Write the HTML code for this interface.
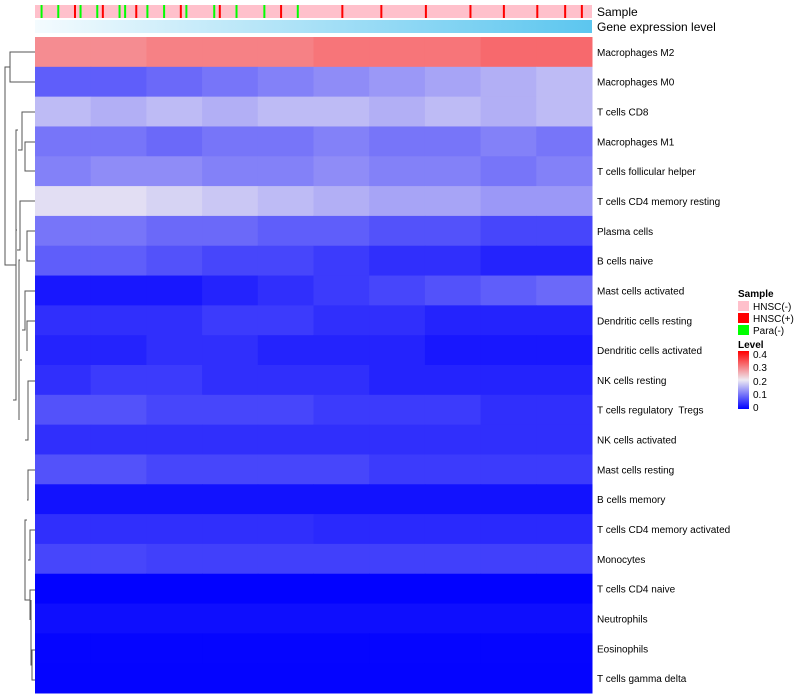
<!DOCTYPE html>
<html><head><meta charset="utf-8"><style>
body{margin:0;background:#fff;font-family:"Liberation Sans",sans-serif;}
#wrap{position:relative;width:800px;height:700px;overflow:hidden}
text{white-space:pre}
</style></head><body>
<div id="wrap">
<svg id="svg" width="800" height="700" xmlns="http://www.w3.org/2000/svg">
<defs>
<linearGradient id="gexp" x1="0" x2="1"><stop offset="0" stop-color="#f4fbfe"/><stop offset="1" stop-color="#5cc6ef"/></linearGradient>
<linearGradient id="lev" x1="0" y1="1" x2="0" y2="0"><stop offset="0" stop-color="#0000ff"/><stop offset="0.5" stop-color="#eeeaf2"/><stop offset="1" stop-color="#ff0000"/></linearGradient>
</defs>
<g id="dendro" stroke="#555" fill="none" stroke-width="1">
<path d="M35 52 H10 V82 H35 M10 67 H5 V265 H16 M35 112 H22 V150 H18 M35 142 H25 V171 H35 M18 130 H16 V400 H13 M35 201 H20 V250 H17 M35 231 H27 V261 H35 M17 230 H16 M20 260 H19 V420 M35 291 H25 V330 H22 M35 321 H27 V351 M22 360 H20 M35 381 H28 V440 H25 M35 470 H28 V500 H27 M35 530 H30 V560 H28 M27 520 H25 V600 H30 M35 590 H30 V620 M35 650 H32 V680 H35 M32 665 H31 V600"/>
</g>
<rect x="35" y="5" width="557" height="13" fill="#ffc0cb"/>
<g id="sampleMarks"></g>
<rect x="35" y="20" width="557" height="13" fill="url(#gexp)"/>
<text x="597" y="16" font-size="12">Sample</text>
<text x="597" y="31" font-size="12">Gene expression level</text>
<g id="cells"></g>
<g id="labels" font-size="10"></g>
<g font-size="10">
<text x="738" y="297" font-weight="bold">Sample</text>
<rect x="738" y="301" width="11" height="10" fill="#ffc0cb"/><text x="753" y="310">HNSC(-)</text>
<rect x="738" y="313" width="11" height="10" fill="#ff0000"/><text x="753" y="322">HNSC(+)</text>
<rect x="738" y="325" width="11" height="10" fill="#00ff00"/><text x="753" y="334">Para(-)</text>
<text x="738" y="348" font-weight="bold">Level</text>
<rect x="738" y="351" width="11" height="58" fill="url(#lev)"/>
<text x="753" y="358">0.4</text><text x="753" y="371">0.3</text><text x="753" y="385">0.2</text><text x="753" y="398">0.1</text><text x="753" y="411">0</text>
</g>
</svg>
</div>
<script>
const rowNames=["Macrophages M2","Macrophages M0","T cells CD8","Macrophages M1","T cells follicular helper","T cells CD4 memory resting","Plasma cells","B cells naive","Mast cells activated","Dendritic cells resting","Dendritic cells activated","NK cells resting","T cells regulatory  Tregs","NK cells activated","Mast cells resting","B cells memory","T cells CD4 memory activated","Monocytes","T cells CD4 naive","Neutrophils","Eosinophils","T cells gamma delta"];
const rowLevels=[
[0.28,0.28,0.29,0.29,0.29,0.30,0.30,0.30,0.31,0.31],
[0.08,0.08,0.09,0.10,0.11,0.12,0.13,0.14,0.15,0.16],
[0.16,0.15,0.16,0.15,0.16,0.16,0.15,0.16,0.15,0.16],
[0.10,0.10,0.09,0.10,0.10,0.11,0.10,0.10,0.11,0.10],
[0.11,0.12,0.12,0.11,0.11,0.12,0.11,0.11,0.10,0.11],
[0.19,0.19,0.18,0.17,0.16,0.15,0.14,0.14,0.13,0.13],
[0.10,0.10,0.09,0.09,0.08,0.08,0.07,0.07,0.06,0.06],
[0.08,0.08,0.07,0.06,0.06,0.05,0.04,0.04,0.03,0.03],
[0.02,0.02,0.02,0.03,0.04,0.05,0.06,0.07,0.08,0.09],
[0.04,0.04,0.04,0.05,0.05,0.04,0.04,0.03,0.03,0.03],
[0.03,0.03,0.04,0.04,0.03,0.03,0.03,0.02,0.02,0.02],
[0.04,0.05,0.05,0.04,0.04,0.04,0.03,0.03,0.03,0.03],
[0.07,0.07,0.06,0.06,0.06,0.05,0.05,0.05,0.04,0.04],
[0.04,0.04,0.04,0.04,0.04,0.04,0.04,0.04,0.04,0.04],
[0.07,0.07,0.06,0.06,0.06,0.06,0.05,0.05,0.05,0.05],
[0.015,0.015,0.015,0.015,0.015,0.015,0.015,0.015,0.015,0.015],
[0.04,0.04,0.04,0.04,0.04,0.035,0.035,0.035,0.035,0.035],
[0.06,0.06,0.055,0.055,0.055,0.055,0.055,0.055,0.055,0.055],
[0.002,0.002,0.002,0.002,0.002,0.002,0.002,0.002,0.002,0.002],
[0.012,0.012,0.012,0.012,0.012,0.012,0.012,0.012,0.012,0.012],
[0.004,0.004,0.004,0.004,0.004,0.004,0.004,0.004,0.004,0.004],
[0.003,0.003,0.003,0.003,0.003,0.003,0.003,0.003,0.003,0.003]];
const greenSamples=[0.01,0.04,0.08,0.11,0.15,0.16,0.2,0.23,0.27,0.32,0.36,0.41,0.47];
const redSamples=[0.07,0.12,0.18,0.26,0.33,0.44,0.55,0.62,0.7,0.78,0.84,0.9,0.95,0.98];
const X0=35,X1=592,Y0=37,Y1=693;
const ns="http://www.w3.org/2000/svg";
function col(v){let t=Math.max(0,Math.min(0.4,v))/0.4;let r,g,b;
 if(t<0.5){let u=t/0.5;r=Math.round(238*u);g=Math.round(234*u);b=Math.round(255-13*u);}
 else{let u=(t-0.5)/0.5;r=Math.round(238+17*u);g=Math.round(234*(1-u));b=Math.round(242*(1-u));}
 return `rgb(${r},${g},${b})`;}
const rh=(Y1-Y0)/rowNames.length;
const cells=document.getElementById('cells'),labels=document.getElementById('labels');
rowNames.forEach((n,i)=>{const segs=rowLevels[i],sw=(X1-X0)/segs.length;
 segs.forEach((v,j)=>{const r=document.createElementNS(ns,'rect');
  r.setAttribute('x',X0+j*sw);r.setAttribute('y',Y0+i*rh);r.setAttribute('width',sw+0.5);r.setAttribute('height',rh+0.5);r.setAttribute('fill',col(v));
  
  
  cells.appendChild(r);});
 const t=document.createElementNS(ns,'text');t.setAttribute('x',597);t.setAttribute('y',Y0+i*rh+rh/2+4);t.textContent=n;
 
 
 labels.appendChild(t);});
const sm=document.getElementById('sampleMarks');
[[greenSamples,'#00ff00'],[redSamples,'#ff0000']].forEach(([arr,c])=>arr.forEach(f=>{const r=document.createElementNS(ns,'rect');
 r.setAttribute('x',X0+f*(X1-X0));r.setAttribute('y',5);r.setAttribute('width',2);r.setAttribute('height',13);r.setAttribute('fill',c);
 
 
 sm.appendChild(r);}));
</script>
</body></html>
